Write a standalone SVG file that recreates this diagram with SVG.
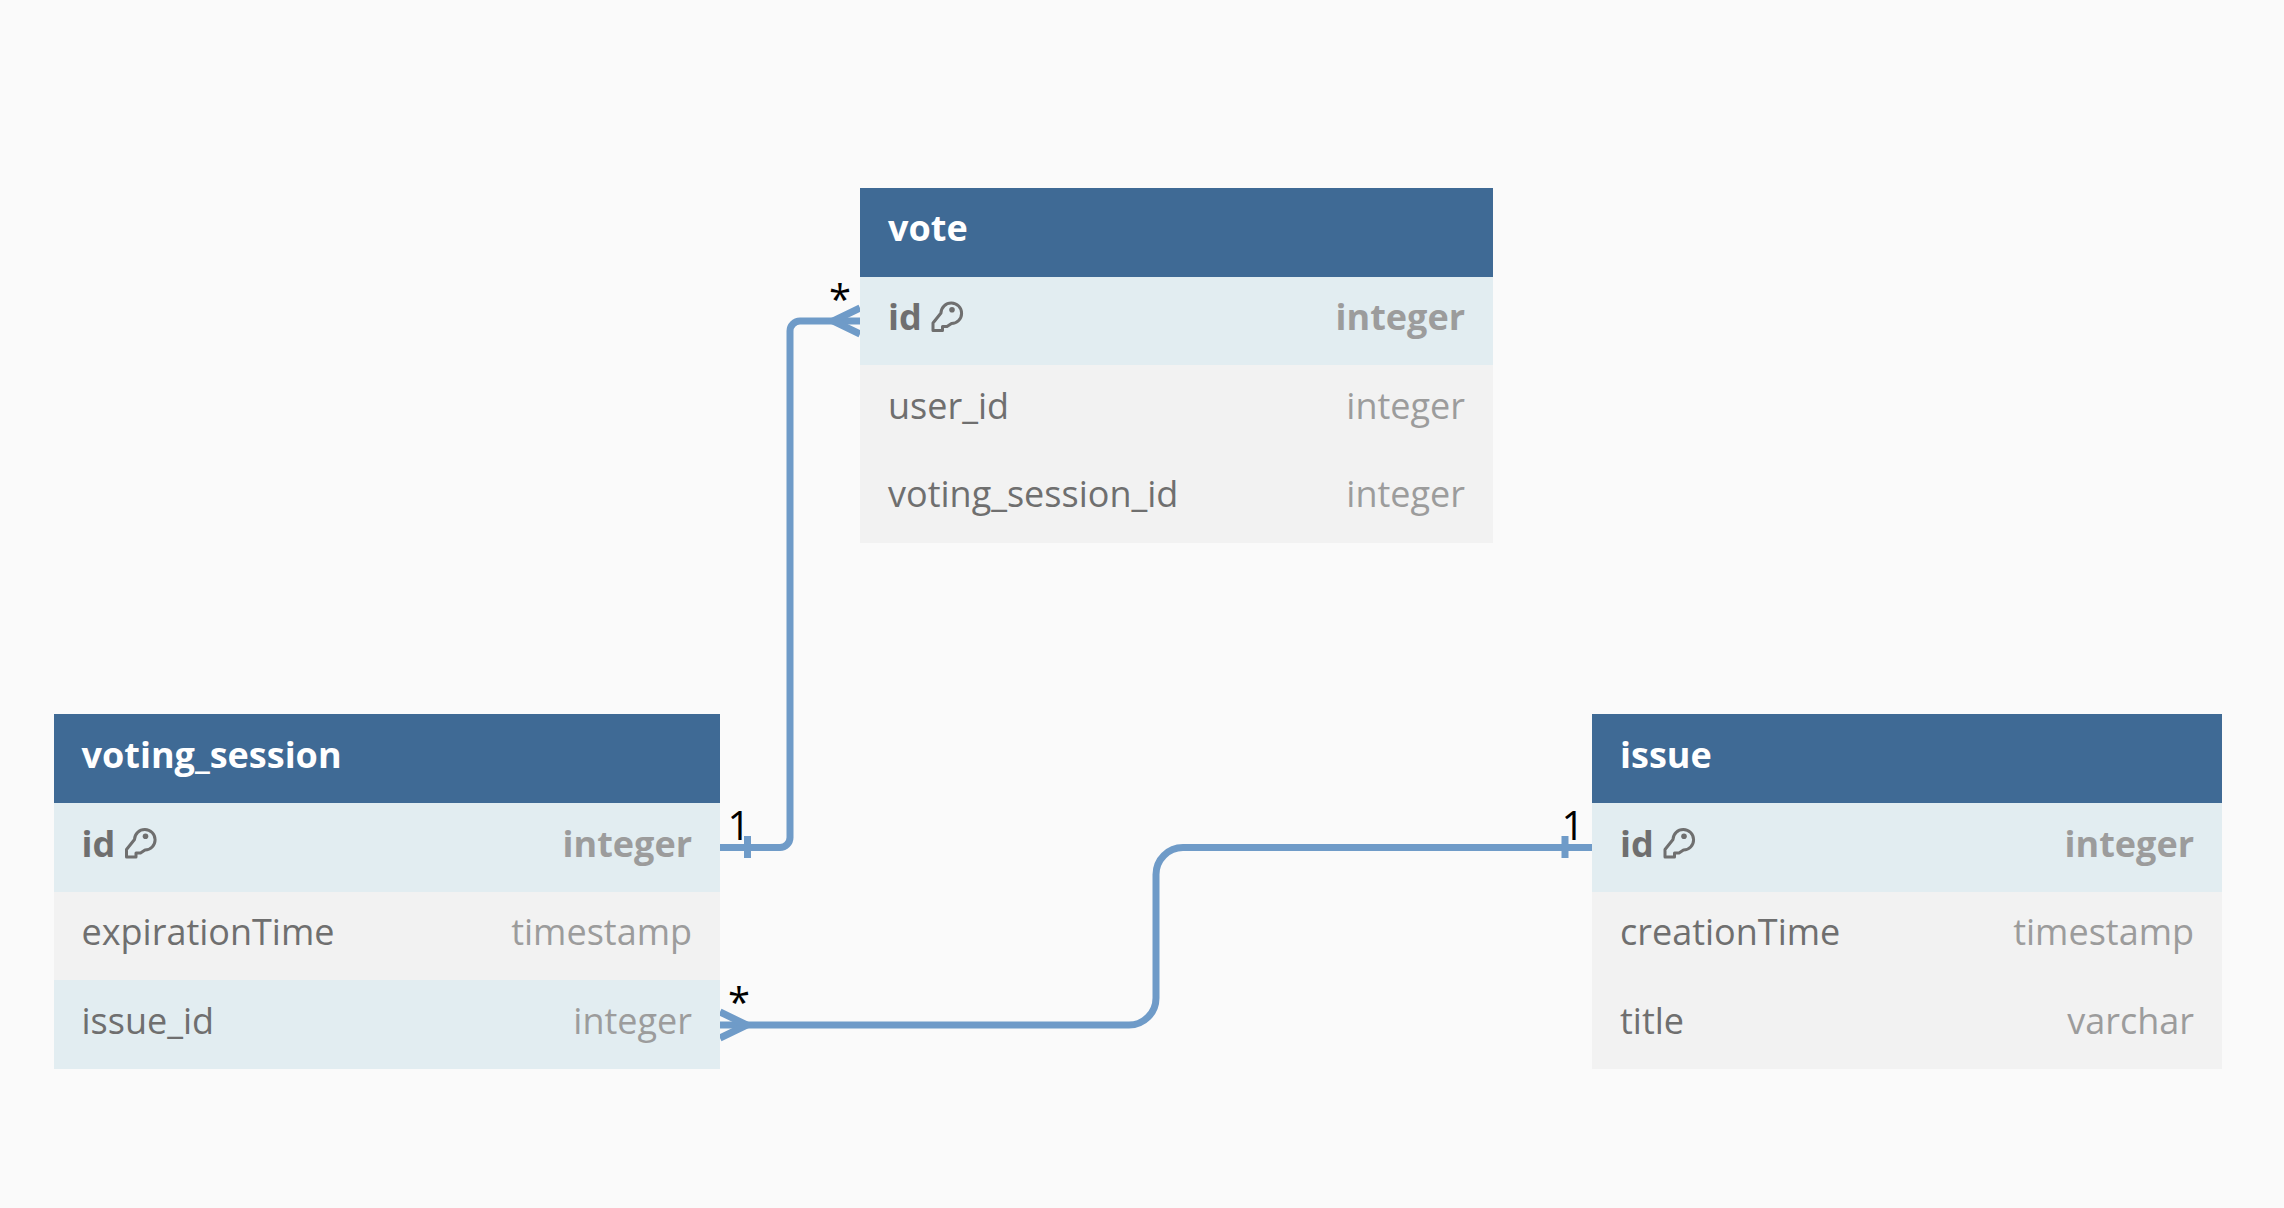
<svg xmlns="http://www.w3.org/2000/svg" width="2284" height="1208" viewBox="0 0 2284 1208">
<style>
text{font-family:"Open Sans","Noto Sans","Liberation Sans",sans-serif}
.h{fill:#3f6a95}.a{fill:#e2edf1}.b{fill:#f2f2f2}
.t{fill:#fff;font-size:36px;font-weight:700}
.n{fill:#6f6f6f;font-size:36px}.nb{fill:#6f6f6f;font-size:36px;font-weight:700}
.y{fill:#9c9c9c;font-size:36px;text-anchor:end}.yb{fill:#9c9c9c;font-size:36px;font-weight:700;text-anchor:end}
.c{fill:none;stroke:#6f9bc8;stroke-width:7}
.l{fill:#000;font-size:40px;text-anchor:middle}
.k{fill:none;stroke:#6f6f6f;stroke-width:3;stroke-linejoin:round}
</style>
<defs>
<g id="key"><path class="k" d="M9 11A10.300 10.300 0 1 1 19.500 21.600L15 24.600H10.500V28.500H1V21Z"/><circle cx="20" cy="7.700" r="2.800" fill="#6f6f6f"/></g>
</defs>
<rect width="2284" height="1208" fill="#fafafa"/>
<g id="connectors">
<path class="c" d="M720 847.500H780a10 10 0 0 0 10-10V331a10 10 0 0 1 10-10H860"/>
<path class="c" d="M747.500 836V858"/>
<path class="c" d="M860 308L833 321L860 334"/>
<path class="c" d="M720 1025H1129a27 27 0 0 0 27-27V874.500a27 27 0 0 1 27-27H1592"/>
<path class="c" d="M720 1012L747 1025L720 1038"/>
<path class="c" d="M1565 836V858"/>
</g>
<g id="vote">
<rect class="h" x="860" y="188" width="633" height="89"/>
<rect class="a" x="860" y="277" width="633" height="88"/>
<rect class="b" x="860" y="365" width="633" height="178"/>
<text class="t" x="888" y="241">vote</text>
<text class="nb" x="888" y="330">id</text><use href="#key" x="932" y="302"/>
<text class="yb" x="1465" y="330">integer</text>
<text class="n" x="888" y="418.500">user_id</text><text class="y" x="1465" y="418.500">integer</text>
<text class="n" x="888" y="507">voting_session_id</text><text class="y" x="1465" y="507">integer</text>
</g>
<g id="voting_session">
<rect class="h" x="54" y="714" width="666" height="89"/>
<rect class="a" x="54" y="803" width="666" height="89"/>
<rect class="b" x="54" y="892" width="666" height="88"/>
<rect class="a" x="54" y="980" width="666" height="89"/>
<text class="t" x="81.500" y="767.500">voting_session</text>
<text class="nb" x="81.500" y="856.500">id</text><use href="#key" x="125.500" y="828.500"/>
<text class="yb" x="692" y="856.500">integer</text>
<text class="n" x="81.500" y="944.500">expirationTime</text><text class="y" x="692" y="944.500">timestamp</text>
<text class="n" x="81.500" y="1033.500">issue_id</text><text class="y" x="692" y="1033.500">integer</text>
</g>
<g id="issue">
<rect class="h" x="1592" y="714" width="630" height="89"/>
<rect class="a" x="1592" y="803" width="630" height="89"/>
<rect class="b" x="1592" y="892" width="630" height="177"/>
<text class="t" x="1620" y="767.500">issue</text>
<text class="nb" x="1620" y="856.500">id</text><use href="#key" x="1664" y="828.500"/>
<text class="yb" x="2194" y="856.500">integer</text>
<text class="n" x="1620" y="944.500">creationTime</text><text class="y" x="2194" y="944.500">timestamp</text>
<text class="n" x="1620" y="1033.500">title</text><text class="y" x="2194" y="1033.500">varchar</text>
</g>
<g id="labels">
<text class="l" x="840" y="314">*</text>
<text class="l" x="739" y="840">1</text>
<text class="l" x="739" y="1017">*</text>
<text class="l" x="1573" y="840">1</text>
</g>
</svg>
